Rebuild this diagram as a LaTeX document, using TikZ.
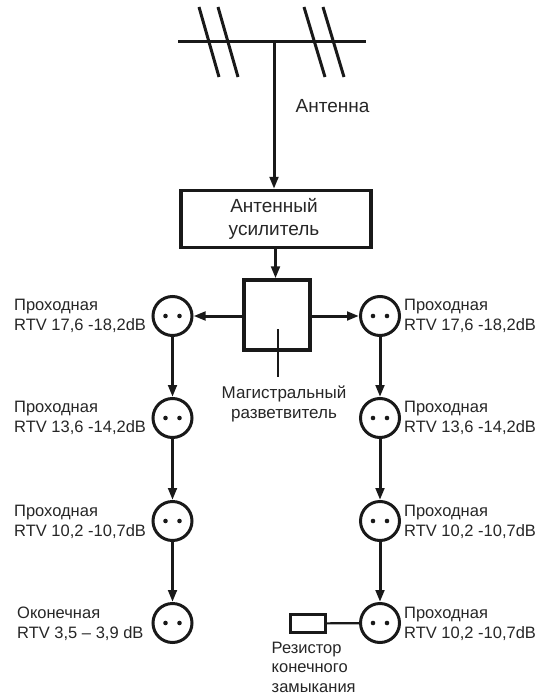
\documentclass[tikz,border=0pt]{standalone}
\usepackage{fontspec}
\setmainfont{Liberation Sans}
\usetikzlibrary{arrows.meta}
\tikzset{
 x=1pt,y=-1pt,
 wire/.style={line width=3pt,draw=black!90},
 arr/.style={wire,-{Triangle[length=12pt,width=8.5pt]}},
 outlet/.style={circle,draw=black!90,line width=3pt,minimum size=39pt,inner sep=0pt},
 lab/.style={font=\fontsize{16.5}{19.5}\selectfont,align=left,text=black!85,inner sep=0pt,anchor=west},
 clab/.style={font=\fontsize{17}{19.5}\selectfont,align=center,text=black!85,inner sep=0pt},
 biglab/.style={font=\fontsize{19}{23}\selectfont,align=center,text=black!85,inner sep=0pt},
}
\newcommand{\outletat}[3]{%
 \node[outlet] (#1) at (#2,#3) {};
 \fill[black!90] (#2-7,#3) circle (2.3pt) (#2+7,#3) circle (2.3pt);
}
\begin{document}
\begin{tikzpicture}
\useasboundingbox (0,0) rectangle (545,695);
% antenna
\coordinate (mastL) at (178,42);
\coordinate (mastR) at (366,42);
\coordinate (mastM) at (274,42);
\draw[wire] (mastL) -- (mastR);
\draw[wire] (199,7) -- (219,77);
\draw[wire] (218,7) -- (238,77);
\draw[wire] (304,7) -- (325,77);
\draw[wire] (323,7) -- (344,77);
\node[biglab] (ant) at (332.5,106) {Антенна};
% amplifier
\node[draw=black!90,line width=3.2pt,minimum width=190pt,minimum height=57pt,inner sep=0pt] (amp) at (276,219) {};
\node[biglab] (amptxt) at (274,219) {Антенный\\усилитель};
\draw[arr] (mastM) -- (mastM |- amp.north);
% splitter
\node[draw=black!90,line width=3.2pt,minimum width=66pt,minimum height=70pt,inner sep=0pt] (spl) at (277,315) {};
\coordinate (feed) at (275.5,248);
\draw[arr] (feed) -- (feed |- spl.north);
\coordinate (tickA) at (278,329);
\coordinate (tickB) at (278,377);
\draw[line width=1.2pt,draw=black!90] (tickA) -- (tickB);
\node[clab] (spltxt) at (284,404) {Магистральный\\разветвитель};
% outlets
\outletat{a1}{172.5}{316}
\outletat{a2}{172.5}{418}
\outletat{a3}{172.5}{521}
\outletat{a4}{172.5}{623}
\outletat{b1}{380}{316}
\outletat{b2}{380}{418}
\outletat{b3}{380}{521}
\outletat{b4}{380}{623}
\draw[arr] (spl.west |- a1) -- (a1);
\draw[arr] (spl.east |- b1) -- (b1);
\draw[arr] (a1) -- (a2);
\draw[arr] (a2) -- (a3);
\draw[arr] (a3) -- (a4);
\draw[arr] (b1) -- (b2);
\draw[arr] (b2) -- (b3);
\draw[arr] (b3) -- (b4);
% labels
\node[lab] (la1) at (14,316) {Проходная\\RTV 17,6 -18,2dB};
\node[lab] (la2) at (14,418) {Проходная\\RTV 13,6 -14,2dB};
\node[lab] (la3) at (14,522) {Проходная\\RTV 10,2 -10,7dB};
\node[lab] (la4) at (17,624) {Оконечная\\RTV 3,5 – 3,9 dB};
\node[lab] (lb1) at (404,316) {Проходная\\RTV 17,6 -18,2dB};
\node[lab] (lb2) at (404,418) {Проходная\\RTV 13,6 -14,2dB};
\node[lab] (lb3) at (404,522) {Проходная\\RTV 10,2 -10,7dB};
\node[lab] (lb4) at (404,624) {Проходная\\RTV 10,2 -10,7dB};
% resistor
\node[draw=black!90,line width=3pt,minimum width=35pt,minimum height=18pt,inner sep=0pt] (res) at (307.5,623.5) {};
\draw[line width=2.2pt,draw=black!90] (res) -- (b4);
\node[lab] (restxt) at (271.5,667) {Резистор\\конечного\\замыкания};
\end{tikzpicture}
\end{document}
